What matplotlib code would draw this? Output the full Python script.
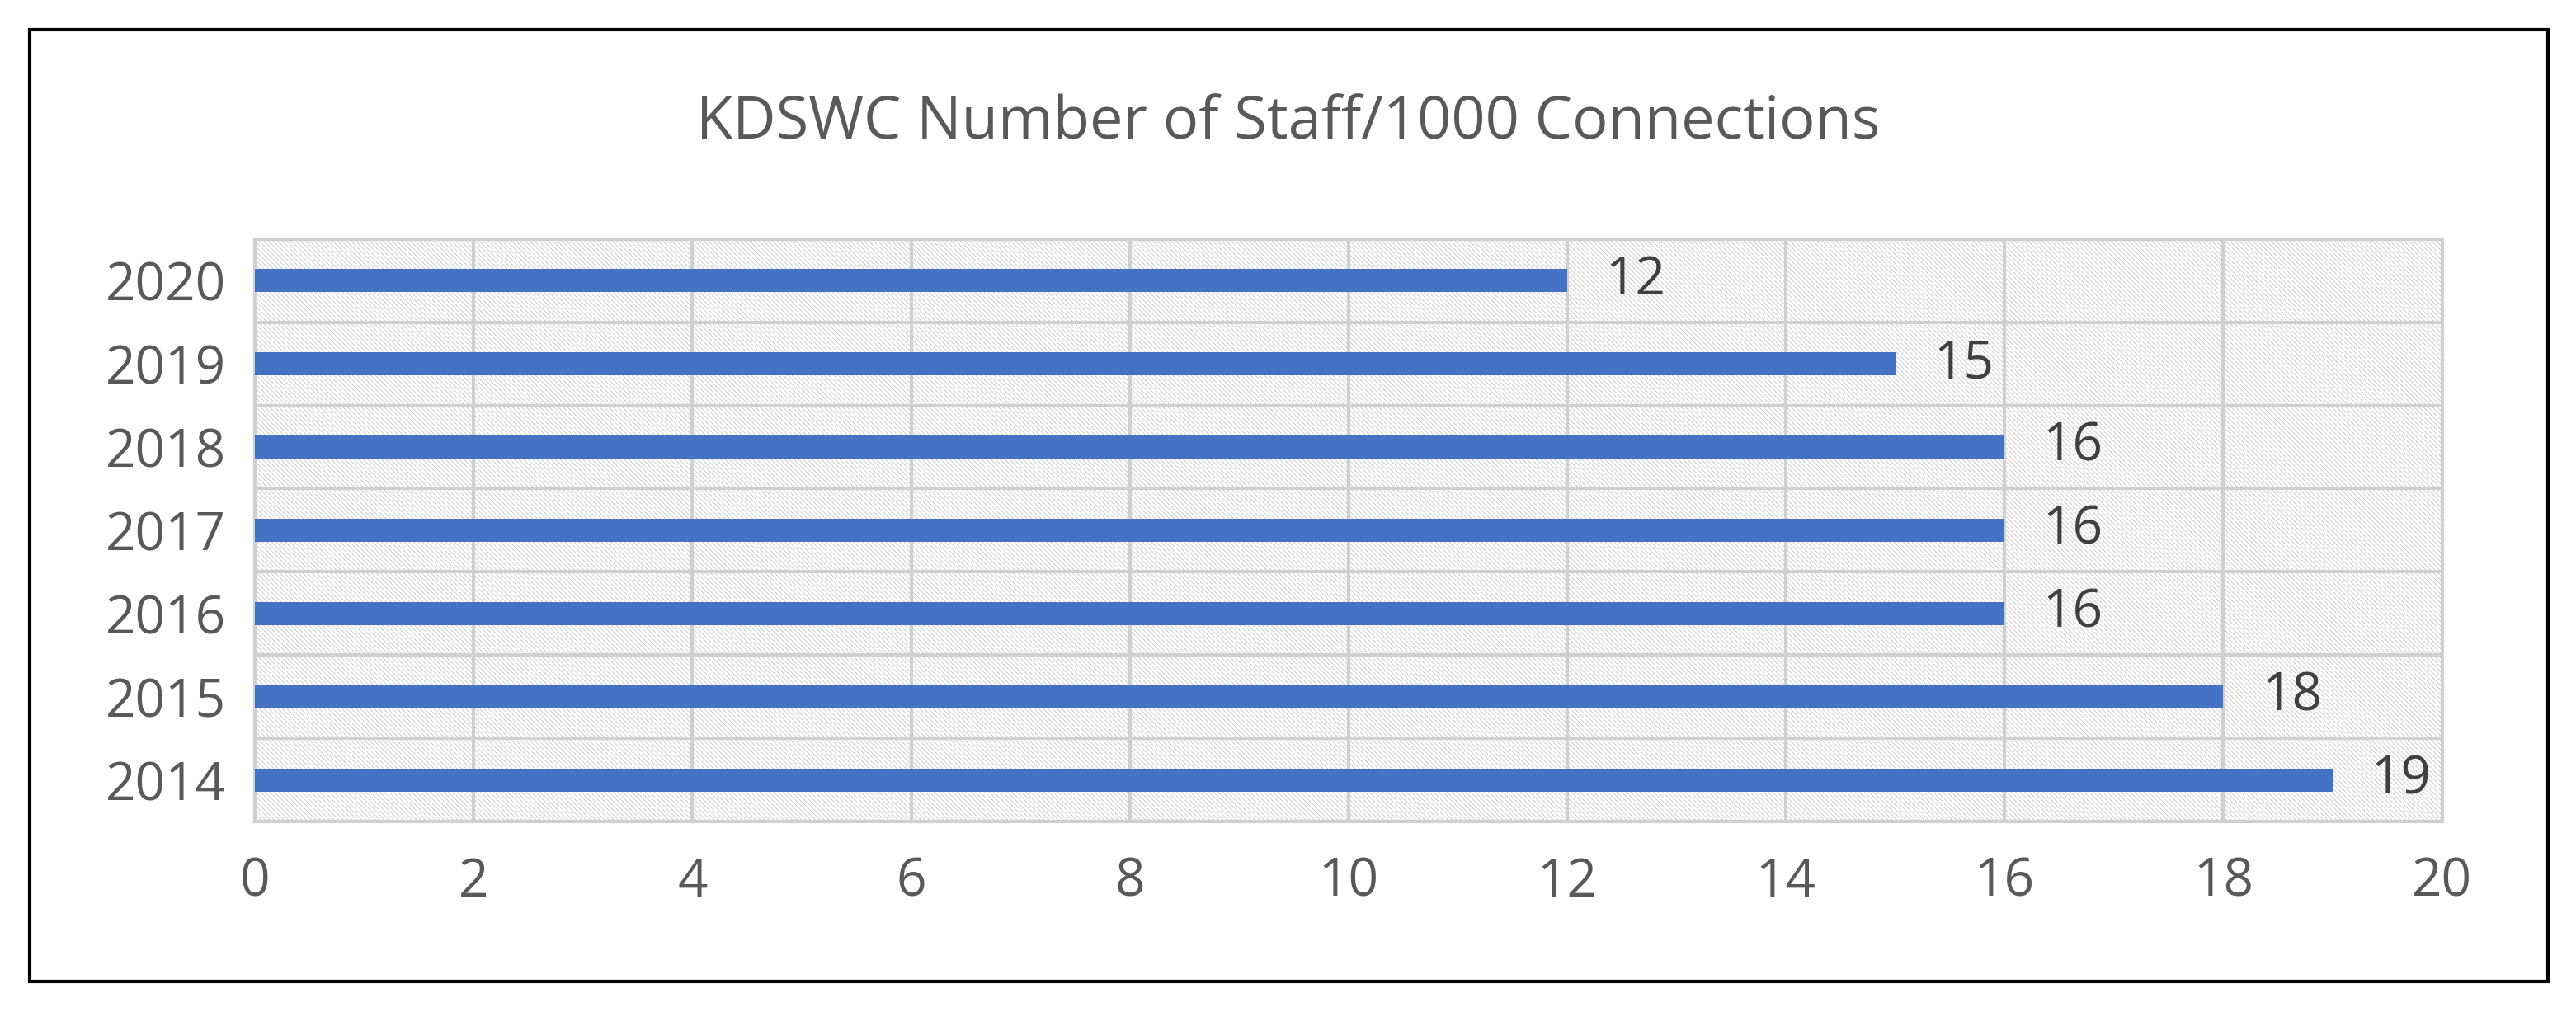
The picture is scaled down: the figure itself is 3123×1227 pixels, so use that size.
import matplotlib
matplotlib.use("Agg")
import matplotlib.pyplot as plt
from matplotlib.patches import Rectangle

years = ["2014", "2015", "2016", "2017", "2018", "2019", "2020"]
values = [19, 18, 16, 16, 16, 15, 12]
xticks = [0, 2, 4, 6, 8, 10, 12, 14, 16, 18, 20]
title = "KDSWC Number of Staff/1000 Connections"

plt.rcParams['font.family'] = ['Open Sans', 'DejaVu Sans']
plt.rcParams['hatch.linewidth'] = 0.6
plt.rcParams['hatch.color'] = '#C8C8C8'

fig = plt.figure(figsize=(31.23, 12.27), dpi=100)
fig.patches.append(Rectangle((0.0115, 0.030), 0.9775, 0.941, transform=fig.transFigure,
                             fill=False, edgecolor='black', linewidth=3))
ax = fig.add_axes([0.099, 0.188, 0.849, 0.576])
ax.patch.set_facecolor('white')
ax.patch.set_hatch('\\' * 6)
ax.patch.set_edgecolor('#C8C8C8')

pos = list(range(len(years)))
ax.barh(pos, values, height=0.28, color='#4472C4', zorder=3)
for p, v in zip(pos, values):
    ax.text(v + 0.35, p, str(v), va='center', ha='left', fontsize=46, color='#404040', zorder=4)

ax.set_xlim(0, 20)
ax.set_ylim(-0.5, len(years) - 0.5)
ax.set_xticks(xticks)
ax.set_xticklabels([str(t) for t in xticks])
ax.set_yticks(pos)
ax.set_yticklabels(years)
ax.set_yticks([p + 0.5 for p in range(-1, len(years))], minor=True)
ax.tick_params(axis='both', which='both', length=0, labelsize=46, labelcolor='#595959')
ax.tick_params(axis='x', pad=30)
ax.tick_params(axis='y', pad=25)
ax.grid(axis='x', which='major', color='#D0D0D0', linewidth=3, zorder=1)
ax.grid(axis='y', which='minor', color='#D0D0D0', linewidth=3, zorder=1)
ax.grid(axis='y', which='major', visible=False)
for s in ax.spines.values():
    s.set_color('#D0D0D0')
    s.set_linewidth(3)

fig.text(0.5, 0.878, title, ha='center', va='center', fontsize=52, color='#595959')
fig.savefig('out.png', dpi=100)
